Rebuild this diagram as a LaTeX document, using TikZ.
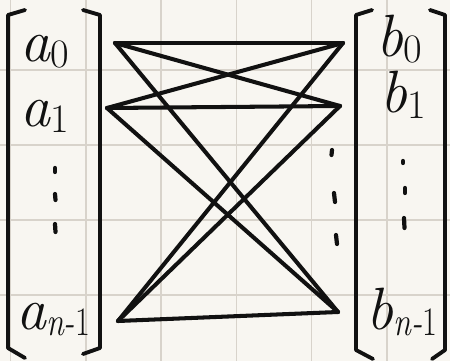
\documentclass[tikz,border=0pt]{standalone}
\usepackage{fontspec}
\usepackage{tikz}
\definecolor{NOTEpaper}{HTML}{F8F6F1}
\definecolor{NOTEgrid}{HTML}{D8D3CB}
\definecolor{NOTEink}{HTML}{111111}
\newcommand{\sub}[1]{\raisebox{-0.1em}{\fontsize{23}{23}\selectfont #1}}
\newcommand{\subn}{\raisebox{-0.1em}{\fontsize{23}{23}\selectfont\scalebox{0.8}[1]{n-\upshape 1}}}
\tikzset{
   entry/.style={anchor=base west, inner sep=0pt, text=NOTEink, font=\fontsize{34}{40}\selectfont\itshape},
   wire/.style={NOTEink, line width=2.3pt, line cap=round, line join=round},
   brkt/.style={NOTEink, line width=2.2pt, line cap=round, line join=round},
   tick/.style={NOTEink, line width=2.4pt, line cap=round}
}

\begin{document}
\begin{tikzpicture}[x=0.02cm, y=-0.02cm]
            \fill[NOTEpaper] (0,0) rectangle (450,361);
            \useasboundingbox (0,0) rectangle (450,361);
            % notebook grid
            \foreach \gx in {10.5,85.8,161.1,236.4,311.7,387} \draw[NOTEgrid, line width=0.8pt] (\gx,0) -- (\gx,361);
            \foreach \gy in {70,145,220,295} \draw[NOTEgrid, line width=0.8pt] (0,\gy) -- (450,\gy);
            % brackets
            \draw[brkt] (25,10) -- (8,15) -- (8,348) -- (25,358);
            \draw[brkt] (83,10) -- (100,15) -- (100,348) -- (83,354);
            \draw[brkt] (372,10) -- (356,15) -- (356,350) -- (373,359);
            \draw[brkt] (430,10) -- (445,15) -- (445,350) -- (432,359);
            % entries
            \node[entry] (a0) at (20,62) {a\sub{\upshape 0}};
            \node[entry] (a1) at (20,127) {a\sub{\upshape 1}};
            \node[entry] (an) at (16,330) {a\subn};
            \node[entry] (b0) at (376,57) {b\sub{\upshape 0}};
            \node[entry] (b1) at (380,113) {b\sub{\upshape 1}};
            \node[entry] (bn) at (366,330) {b\subn};
            \draw[tick] (55,168) -- (55,172);
            \draw[tick] (55,194) -- (55.5,200);
            \draw[tick] (55,224) -- (55.5,232);
            \draw[tick] (403,161) -- (403,163);
            \draw[tick] (405,188) -- (405,193);
            \draw[tick] (404,218) -- (404.5,228);
            \draw[tick] (332,150) -- (331.5,155);
            \draw[tick] (334,193) -- (335,202);
            \draw[tick] (336,235) -- (337,244);
            % every a wired to every b
            \coordinate (la0) at (115,43);
            \coordinate (la1) at (107,108);
            \coordinate (lan) at (118,321);
            \coordinate (rb0) at (343,43);
            \coordinate (rb1) at (340,106);
            \coordinate (rbn) at (338,312);
            \foreach \s in {la0,la1,lan} \foreach \t in {rb0,rb1,rbn} \draw[wire] (\s) -- (\t);
         \end{tikzpicture}
\end{document}
